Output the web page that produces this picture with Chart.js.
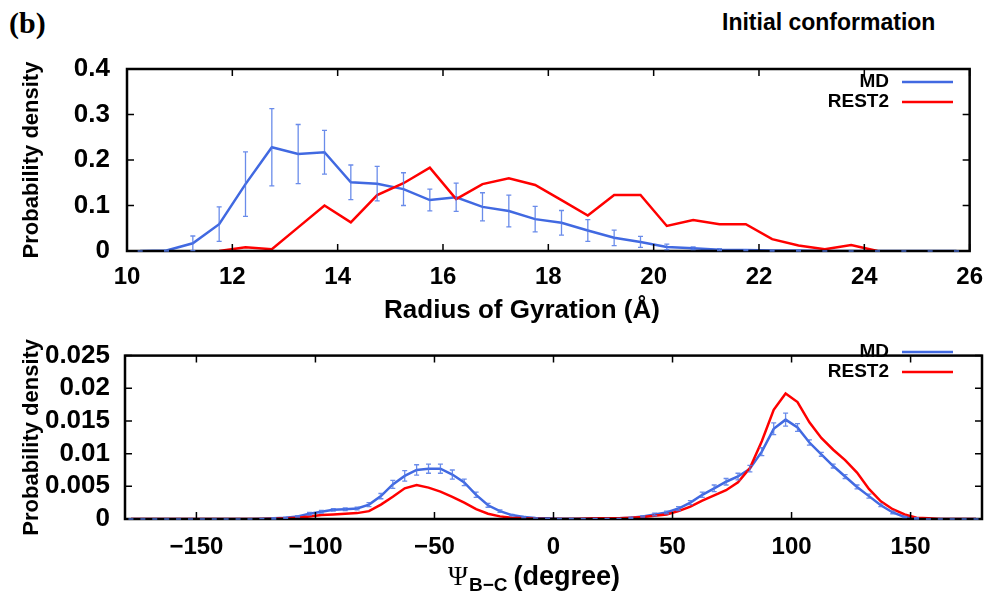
<!DOCTYPE html>
<html>
<head>
<meta charset="utf-8">
<script src="https://cdn.jsdelivr.net/npm/chart.js@4/dist/chart.umd.min.js"></script>
<style>
  body { margin: 0; background: #fff; width: 995px; height: 598px; overflow: hidden; position: relative; }
  .lbl { position: absolute; font-weight: bold; white-space: nowrap; color: #000; }
  #wrap1 { position: absolute; left: 0; top: 0; width: 995px; height: 325px; }
  #wrap2 { position: absolute; left: 0; top: 325px; width: 995px; height: 273px; }
</style>
</head>
<body>
<div class="lbl" style="left:9px;top:8px;font-family:'Liberation Serif',serif;font-size:30px;line-height:30px">(b)</div>
<div class="lbl" style="left:722px;top:10px;font-family:'Liberation Sans',Arial,sans-serif;font-size:23px;line-height:24px">Initial conformation</div>
<div id="wrap1"><canvas id="rgChart"></canvas></div>
<div id="wrap2"><canvas id="psiChart"></canvas></div>

<script>
// ---- panel 1: radius of gyration ----
const rgBins = [10.25, 10.75, 11.25, 11.75, 12.25, 12.75, 13.25, 13.75, 14.25, 14.75, 15.25, 15.75,
  16.25, 16.75, 17.25, 17.75, 18.25, 18.75, 19.25, 19.75, 20.25, 20.75, 21.25, 21.75,
  22.25, 22.75, 23.25, 23.75, 24.25, 24.75, 25.25, 25.75];
const rgMD = [0, 0.001, 0.017, 0.059, 0.147, 0.228, 0.213, 0.217, 0.151, 0.148, 0.136, 0.112,
  0.118, 0.097, 0.088, 0.070, 0.062, 0.045, 0.029, 0.020, 0.009, 0.006, 0.003, 0.002,
  0.001, 0.001, 0, 0, 0, 0, 0, 0];
const rgMDErr = [0, 0.001, 0.016, 0.038, 0.071, 0.085, 0.065, 0.048, 0.038, 0.038, 0.036, 0.024,
  0.031, 0.031, 0.035, 0.028, 0.027, 0.024, 0.017, 0.012, 0.006, 0.003, 0.002, 0.001,
  0.001, 0.001, 0, 0, 0, 0, 0, 0];
const rgREST2 = [null, null, null, 0, 0.008, 0.004, 0.052, 0.100, 0.063, 0.123, 0.149, 0.183,
  0.114, 0.147, 0.160, 0.145, 0.112, 0.078, 0.123, 0.123, 0.055, 0.068, 0.059, 0.059,
  0.026, 0.012, 0.004, 0.013, 0, null, null, null];
const rgXTicks = [10, 12, 14, 16, 18, 20, 22, 24, 26];
const rgXLabels = ['10', '12', '14', '16', '18', '20', '22', '24', '26'];
const rgYTicks = [0, 0.1, 0.2, 0.3, 0.4];
const rgYLabels = ['0', '0.1', '0.2', '0.3', '0.4'];

// ---- panel 2: dihedral Psi B-C ----
const psiBins = [-177.5, -172.5, -167.5, -162.5, -157.5, -152.5, -147.5, -142.5, -137.5, -132.5,
  -127.5, -122.5, -117.5, -112.5, -107.5, -102.5, -97.5, -92.5, -87.5, -82.5,
  -77.5, -72.5, -67.5, -62.5, -57.5, -52.5, -47.5, -42.5, -37.5, -32.5,
  -27.5, -22.5, -17.5, -12.5, -7.5, -2.5, 2.5, 7.5, 12.5, 17.5,
  22.5, 27.5, 32.5, 37.5, 42.5, 47.5, 52.5, 57.5, 62.5, 67.5,
  72.5, 77.5, 82.5, 87.5, 92.5, 97.5, 102.5, 107.5, 112.5, 117.5,
  122.5, 127.5, 132.5, 137.5, 142.5, 147.5, 152.5, 157.5, 162.5, 167.5,
  172.5, 177.5];
const psiMD = [0, 0, 0, 0, 0, 0, 0, 0, 0, 0,
  0, 0.00005, 0.0001, 0.0002, 0.0004, 0.0008, 0.0011, 0.0014, 0.0015, 0.0016,
  0.0022, 0.0035, 0.0053, 0.0066, 0.0075, 0.0077, 0.0077, 0.0068, 0.0056, 0.0037,
  0.0021, 0.0012, 0.0006, 0.0003, 0.00015, 0.0001, 0.00005, 0.00005, 0.00005, 0.0001,
  0.0001, 0.0001, 0.0002, 0.0004, 0.0007, 0.0010, 0.0016, 0.0025, 0.0037, 0.0047,
  0.0057, 0.0065, 0.0077, 0.0103, 0.0138, 0.0152, 0.0140, 0.0117, 0.0099, 0.0081,
  0.0065, 0.0049, 0.0035, 0.0021, 0.0010, 0.0003, 0.0001, 0, 0, 0,
  0, 0];
const psiMDErr = [0, 0, 0, 0, 0, 0, 0, 0, 0, 0,
  0, 0, 0.0001, 0.0001, 0.0001, 0.0002, 0.0002, 0.0002, 0.0002, 0.0002,
  0.0003, 0.0004, 0.0006, 0.0008, 0.0008, 0.0007, 0.0007, 0.0007, 0.0005, 0.0004,
  0.0003, 0.0002, 0.0001, 0.0001, 0, 0, 0, 0, 0, 0,
  0, 0, 0.0001, 0.0001, 0.0002, 0.0002, 0.0003, 0.0003, 0.0004, 0.0005,
  0.0005, 0.0005, 0.0005, 0.0006, 0.0009, 0.0010, 0.0006, 0.0004, 0.0003, 0.0003,
  0.0003, 0.0003, 0.0003, 0.0002, 0.0002, 0.0001, 0.0001, 0, 0, 0,
  0, 0];
const psiREST2 = [0, 0, 0, 0, 0, 0, 0, 0, 0, 0,
  0, 0, 0.00005, 0.0001, 0.0002, 0.0004, 0.0006, 0.0007, 0.0008, 0.0009,
  0.0012, 0.0022, 0.0034, 0.0047, 0.0052, 0.0048, 0.0042, 0.0034, 0.0025, 0.0015,
  0.0008, 0.0004, 0.0002, 0.0001, 0.00005, 0, 0, 0, 0.00005, 0.0001,
  0.0001, 0.0001, 0.0002, 0.0003, 0.0005, 0.0007, 0.0012, 0.0019, 0.0028, 0.0036,
  0.0044, 0.0056, 0.0078, 0.0119, 0.0167, 0.0192, 0.0179, 0.0148, 0.0124, 0.0106,
  0.0090, 0.0071, 0.0046, 0.0027, 0.0015, 0.0007, 0.0002, 0.0001, 0, 0,
  0, 0];
const psiXTicks = [-150, -100, -50, 0, 50, 100, 150];
const psiXLabels = ['\u2212150', '\u2212100', '\u221250', '0', '50', '100', '150'];
const psiYTicks = [0, 0.005, 0.01, 0.015, 0.02, 0.025];
const psiYLabels = ['0', '0.005', '0.01', '0.015', '0.02', '0.025'];

const seriesNames = ['MD', 'REST2'];
const colMD = '#4169e1';
const colREST2 = '#ff0000';
const colErr = 'rgba(80,120,230,0.85)';
const SANS = '"Liberation Sans", Arial, sans-serif';

const pts = (xs, ys) => xs.map((x, i) => ({ x, y: ys[i] }));

// black box + inward ticks on all four sides
const framePlugin = {
  id: 'frame',
  afterDatasetsDraw(chart) {
    const { ctx, chartArea: a, scales: { x, y } } = chart;
    ctx.save();
    ctx.strokeStyle = '#000';
    ctx.lineWidth = 1.5;
    ctx.beginPath();
    x.ticks.forEach((t) => {
      const px = x.getPixelForValue(t.value);
      ctx.moveTo(px, a.bottom); ctx.lineTo(px, a.bottom - 7);
      ctx.moveTo(px, a.top); ctx.lineTo(px, a.top + 7);
    });
    y.ticks.forEach((t) => {
      const py = y.getPixelForValue(t.value);
      ctx.moveTo(a.left, py); ctx.lineTo(a.left + 7, py);
      ctx.moveTo(a.right, py); ctx.lineTo(a.right - 7, py);
    });
    ctx.stroke();
    ctx.lineWidth = 2.5;
    ctx.strokeRect(a.left, a.top, a.right - a.left, a.bottom - a.top);
    ctx.restore();
  },
};

// vertical error bars for the MD series
const errPlugin = {
  id: 'errbars',
  afterDatasetsDraw(chart, args, opts) {
    if (!opts.errors) return;
    const { ctx, scales: { x, y } } = chart;
    const data = chart.data.datasets[opts.dataset].data;
    ctx.save();
    ctx.strokeStyle = colErr;
    ctx.lineWidth = 1.3;
    ctx.beginPath();
    data.forEach((p, i) => {
      const e = opts.errors[i];
      if (p.y == null) return;
      const px = x.getPixelForValue(p.x);
      const y0 = y.getPixelForValue(p.y - e);
      const y1 = y.getPixelForValue(p.y + e);
      ctx.moveTo(px, y0); ctx.lineTo(px, y1);
      ctx.moveTo(px - opts.cap, y0); ctx.lineTo(px + opts.cap, y0);
      ctx.moveTo(px - opts.cap, y1); ctx.lineTo(px + opts.cap, y1);
    });
    ctx.stroke();
    ctx.restore();
  },
};

// gnuplot style key: text, then a line sample
const keyPlugin = {
  id: 'linekey',
  afterDraw(chart, args, opts) {
    const { ctx } = chart;
    ctx.save();
    ctx.font = 'bold 19px ' + SANS;
    ctx.textAlign = 'right';
    ctx.textBaseline = 'middle';
    chart.data.datasets.forEach((ds, i) => {
      const yy = opts.y0 + i * 20;
      ctx.fillStyle = '#000';
      ctx.fillText(ds.label, opts.textRight, yy);
      ctx.strokeStyle = ds.borderColor;
      ctx.lineWidth = 2.5;
      ctx.beginPath();
      ctx.moveTo(opts.line0, yy); ctx.lineTo(opts.line1, yy);
      ctx.stroke();
    });
    ctx.restore();
  },
};

// x axis titles (the dihedral one needs a subscript)
const xTitlePlugin = {
  id: 'xtitle',
  afterDraw(chart, args, opts) {
    const { ctx, chartArea: a } = chart;
    const yy = a.bottom + opts.dy;
    ctx.save();
    ctx.fillStyle = '#000';
    ctx.textBaseline = 'middle';
    if (opts.psi) {
      ctx.textAlign = 'left';
      let xx = opts.x0;
      ctx.font = '27px "Liberation Serif", serif';
      ctx.fillText('\u03a8', xx, yy);
      xx += ctx.measureText('\u03a8').width + 1;
      ctx.font = 'bold 19px ' + SANS;
      ctx.fillText('B\u2212C', xx, yy + 8);
      xx += ctx.measureText('B\u2212C').width + 6;
      ctx.font = 'bold 27px ' + SANS;
      ctx.fillText('(degree)', xx, yy);
    } else {
      ctx.textAlign = 'center';
      ctx.font = 'bold 26px ' + SANS;
      ctx.fillText(opts.text, opts.cx, yy);
    }
    ctx.restore();
  },
};

function makeOptions(cfg) {
  return {
    responsive: true,
    maintainAspectRatio: false,
    animation: false,
    devicePixelRatio: 1,
    layout: { padding: { top: cfg.padTop, right: cfg.padRight, left: 0, bottom: 0 } },
    plugins: {
      legend: { display: false },
      tooltip: { enabled: false },
      errbars: { dataset: 0, errors: cfg.errors, cap: cfg.cap },
      linekey: { y0: cfg.keyY, textRight: 889, line0: 902, line1: 953 },
      xtitle: cfg.xTitle,
    },
    scales: {
      x: {
        type: 'linear',
        min: cfg.xMin,
        max: cfg.xMax,
        grid: { display: false, drawTicks: false },
        border: { display: false },
        afterBuildTicks: (s) => { s.ticks = cfg.xTicks.map((v) => ({ value: v })); },
        afterFit: (s) => { s.height = cfg.xHeight; },
        ticks: {
          color: '#000',
          padding: cfg.xPad,
          maxRotation: 0,
          autoSkip: false,
          font: { family: SANS, size: 24, weight: 'bold' },
          callback: (v, i) => cfg.xLabels[i],
        },
        title: { display: false },
      },
      y: {
        min: cfg.yMin,
        max: cfg.yMax,
        grid: { display: false, drawTicks: false },
        border: { display: false },
        afterBuildTicks: (s) => { s.ticks = cfg.yTicks.map((v) => ({ value: v })); },
        afterFit: (s) => { s.width = cfg.yWidth; },
        ticks: {
          color: '#000',
          padding: cfg.yPad,
          autoSkip: false,
          font: { family: SANS, size: 26, weight: 'bold' },
          callback: (v, i) => cfg.yLabels[i],
        },
        title: {
          display: true,
          text: 'Probability density',
          color: '#000',
          padding: { top: 19, bottom: 0 },
          font: { family: SANS, size: 22, weight: 'bold' },
        },
      },
    },
  };
}

function dataset(label, xs, ys, color, order) {
  return {
    label,
    data: pts(xs, ys),
    borderColor: color,
    backgroundColor: color,
    borderWidth: 2.5,
    pointRadius: 0,
    tension: 0,
    spanGaps: false,
    order,
  };
}

new Chart(document.getElementById('rgChart'), {
  type: 'line',
  data: {
    datasets: [
      dataset(seriesNames[0], rgBins, rgMD, colMD, 1),
      dataset(seriesNames[1], rgBins, rgREST2, colREST2, 0),
    ],
  },
  options: makeOptions({
    padTop: 69, padRight: 16, xMin: 10, xMax: 26, yMin: 0, yMax: 0.4,
    xTicks: rgXTicks, xLabels: rgXLabels, yTicks: rgYTicks, yLabels: rgYLabels,
    xHeight: 74, yWidth: 127, xPad: 12, yPad: 17,
    xTitle: { text: 'Radius of Gyration (\u00c5)', cx: 522, dy: 60 },
    errors: rgMDErr, cap: 2.5, keyY: 82,
  }),
  plugins: [framePlugin, errPlugin, keyPlugin, xTitlePlugin],
});

new Chart(document.getElementById('psiChart'), {
  type: 'line',
  data: {
    datasets: [
      dataset(seriesNames[0], psiBins, psiMD, colMD, 1),
      dataset(seriesNames[1], psiBins, psiREST2, colREST2, 0),
    ],
  },
  options: makeOptions({
    padTop: 11, padRight: 13, xMin: -180, xMax: 180, yMin: 0, yMax: 0.025,
    xTicks: psiXTicks, xLabels: psiXLabels, yTicks: psiYTicks, yLabels: psiYLabels,
    xHeight: 79, yWidth: 125, xPad: 14, yPad: 15,
    xTitle: { psi: true, x0: 448, dy: 59 },
    errors: psiMDErr, cap: 2.5, keyY: 27,
  }),
  plugins: [framePlugin, errPlugin, keyPlugin, xTitlePlugin],
});
</script>
</body>
</html>
